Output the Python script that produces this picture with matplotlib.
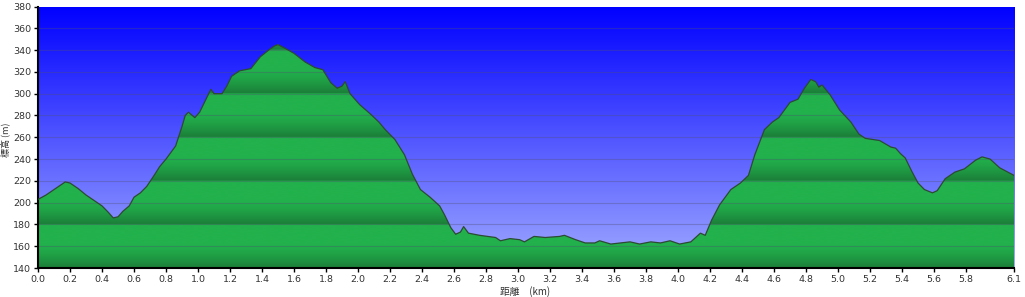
import numpy as np
import matplotlib
matplotlib.use("Agg")
import matplotlib.pyplot as plt
from matplotlib.colors import to_rgb

# ---- data ----
dist_km = [0.00, 0.05, 0.10, 0.14, 0.17, 0.20, 0.25, 0.30, 0.36, 0.40, 0.44, 0.47, 0.50,
           0.53, 0.57, 0.60, 0.64, 0.68, 0.73, 0.76, 0.80, 0.86, 0.90, 0.92, 0.94, 0.98,
           1.01, 1.05, 1.08, 1.10, 1.15, 1.18, 1.21, 1.26, 1.33, 1.39, 1.45, 1.48, 1.50,
           1.54, 1.60, 1.67, 1.73, 1.78, 1.83, 1.87, 1.90, 1.92, 1.95, 2.01, 2.08, 2.13,
           2.17, 2.23, 2.29, 2.34, 2.39, 2.45, 2.51, 2.54, 2.58, 2.61, 2.64, 2.66, 2.69,
           2.76, 2.86, 2.89, 2.95, 3.01, 3.04, 3.10, 3.17, 3.26, 3.29, 3.36, 3.42, 3.48,
           3.51, 3.58, 3.70, 3.76, 3.83, 3.89, 3.95, 4.01, 4.08, 4.14, 4.17, 4.21, 4.26,
           4.33, 4.39, 4.44, 4.48, 4.54, 4.59, 4.63, 4.70, 4.75, 4.79, 4.83, 4.86, 4.88,
           4.90, 4.95, 5.01, 5.08, 5.13, 5.17, 5.26, 5.33, 5.36, 5.39, 5.42, 5.46, 5.50,
           5.54, 5.59, 5.62, 5.67, 5.73, 5.79, 5.86, 5.90, 5.95, 6.01, 6.10]
elev_m = [203, 207, 212, 216, 219, 218, 213, 207, 201, 197, 191, 186, 187,
          192, 197, 205, 209, 215, 226, 233, 240, 252, 270, 280, 283, 278,
          283, 295, 304, 300, 300, 307, 316, 321, 323, 334, 341, 344, 345,
          342, 337, 329, 324, 322, 310, 305, 307, 311, 300, 290, 281, 274,
          267, 258, 244, 226, 212, 205, 197, 189, 177, 171, 173, 178, 172,
          170, 168, 165, 167, 166, 164, 169, 168, 169, 170, 166, 163, 163,
          165, 162, 164, 162, 164, 163, 165, 162, 164, 172, 170, 184, 198,
          212, 218, 225, 244, 267, 274, 278, 292, 295, 305, 313, 311, 306,
          308, 299, 285, 274, 263, 259, 257, 251, 250, 245, 241, 229, 218,
          212, 209, 211, 222, 228, 231, 239, 242, 240, 232, 225]
x_ticks = [0.0, 0.2, 0.4, 0.6, 0.8, 1.0, 1.2, 1.4, 1.6, 1.8, 2.0, 2.2, 2.4, 2.6, 2.8, 3.0,
           3.2, 3.4, 3.6, 3.8, 4.0, 4.2, 4.4, 4.6, 4.8, 5.0, 5.2, 5.4, 5.6, 5.8, 6.1]
y_ticks = list(range(140, 381, 20))

XMIN, XMAX, YMIN, YMAX = 0.0, 6.1, 140, 380

fig = plt.figure(figsize=(10.25, 2.97), dpi=100)
ax = fig.add_axes([0.0371, 0.0976, 0.9522, 0.8805])

# background gradient (blue at top -> pale lavender at bottom)
n = 600
top = np.array([0, 0, 255]) / 255
bot = np.array([160, 170, 255]) / 255
f = np.linspace(0, 1, n)[:, None]
bg = (top * (1 - f) + bot * f)[:, None, :]
ax.imshow(bg, extent=[XMIN, XMAX, YMIN, YMAX], aspect='auto', origin='upper',
          interpolation='bilinear', zorder=0)

# green banded gradient: bright just below each dark line, darkening toward the next one
vals = np.linspace(YMAX, YMIN, 2400)
bright = np.array(to_rgb('#22b14c'))
dark = np.array(to_rgb('#1b7d38'))
t = 1 - ((vals - 140) % 40) / 40.0
d = np.clip((t - 0.45) / 0.55, 0, 1) ** 1.4
gimg = (bright * (1 - d)[:, None] + dark * d[:, None])[:, None, :]
poly = ax.fill_between(dist_km, elev_m, YMIN, color='none', lw=0, zorder=1)
im = ax.imshow(gimg, extent=[XMIN, XMAX, YMIN, YMAX], aspect='auto', origin='upper',
               interpolation='bilinear', zorder=1)
im.set_clip_path(poly.get_paths()[0], transform=ax.transData)
ax.plot(dist_km, elev_m, color='#2d4a33', lw=0.9, zorder=3)

# grid
for yv in y_ticks[1:-1]:
    ax.axhline(yv, color='#505070', alpha=0.35, lw=0.8, zorder=2)

ax.set_xlim(XMIN, XMAX)
ax.set_ylim(YMIN, YMAX)
ax.set_xticks(x_ticks)
ax.set_xticklabels([f"{v:.1f}" for v in x_ticks])
ax.set_yticks(y_ticks)
ax.set_yticklabels([str(v) for v in y_ticks])
ax.tick_params(axis='both', direction='out', length=3, width=1, color='black',
               labelsize=6.8, labelcolor='#333333', pad=2)
for s in ['top', 'right']:
    ax.spines[s].set_visible(False)
for s in ['left', 'bottom']:
    ax.spines[s].set_linewidth(1.5)
    ax.spines[s].set_color('black')

cjk = ['Noto Sans CJK JP', 'DejaVu Sans']
fig.text(0.0, 0.53, '標高 (m)', rotation=90, ha='left', va='center',
         fontsize=6.5, color='#333333', family=cjk)
fig.text(0.512, 0.0, '距離　(km)', ha='center', va='bottom',
         fontsize=7, color='#333333', family=cjk)

fig.savefig('out.png', dpi=100)
